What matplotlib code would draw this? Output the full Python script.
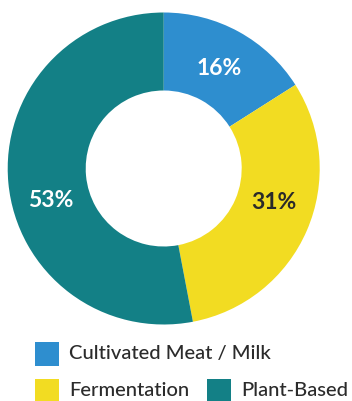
import matplotlib
matplotlib.use("Agg")
import matplotlib.pyplot as plt
from matplotlib.patches import Rectangle

plt.rcParams['font.family'] = ['Lato', 'DejaVu Sans']

categories = ["Cultivated Meat / Milk", "Fermentation", "Plant-Based"]
shares = [16, 31, 53]
colors = ["#2E8ECF", "#F2DC22", "#138086"]
label_colors = ["white", "#2a2a2a", "white"]
# label anchor points in axes data units (pie radius = 1)
label_xy = [(0.354, 0.638), (0.706, -0.218), (-0.726, -0.208)]

W, H = 352, 401
fig = plt.figure(figsize=(W / 100, H / 100), dpi=100)

cx, cy, R = 163.7, 168.5, 156.0
ax = fig.add_axes([(cx - R) / W, (H - cy - R) / H, 2 * R / W, 2 * R / H])
wedges, _ = ax.pie(shares, colors=colors, startangle=90, counterclock=False,
                   radius=1.0, wedgeprops=dict(width=0.5, linewidth=0))
ax.set_xlim(-1, 1)
ax.set_ylim(-1, 1)
ax.set_aspect('auto')
ax.axis('off')

for v, (x, y), c in zip(shares, label_xy, label_colors):
    ax.text(x, y, f"{v}%", ha='center', va='center', fontsize=16.5,
            fontweight='bold', color=c)

# legend: first entry on its own row, remaining two on the second row
rows = [[(0, 35)], [(1, 35), (2, 207)]]
row_y = [354, 391]
sw = 24
for row, yc in zip(rows, row_y):
    for idx, x0 in row:
        fig.add_artist(Rectangle((x0 / W, (H - yc - sw / 2) / H), sw / W, sw / H,
                                 transform=fig.transFigure,
                                 facecolor=wedges[idx].get_facecolor(),
                                 edgecolor='none'))
        fig.text((x0 + sw + 10) / W, (H - yc) / H, categories[idx],
                 ha='left', va='center', fontsize=14.5, color='#2b2b2b',
                 fontweight='medium')

fig.savefig("out.png", dpi=100)
